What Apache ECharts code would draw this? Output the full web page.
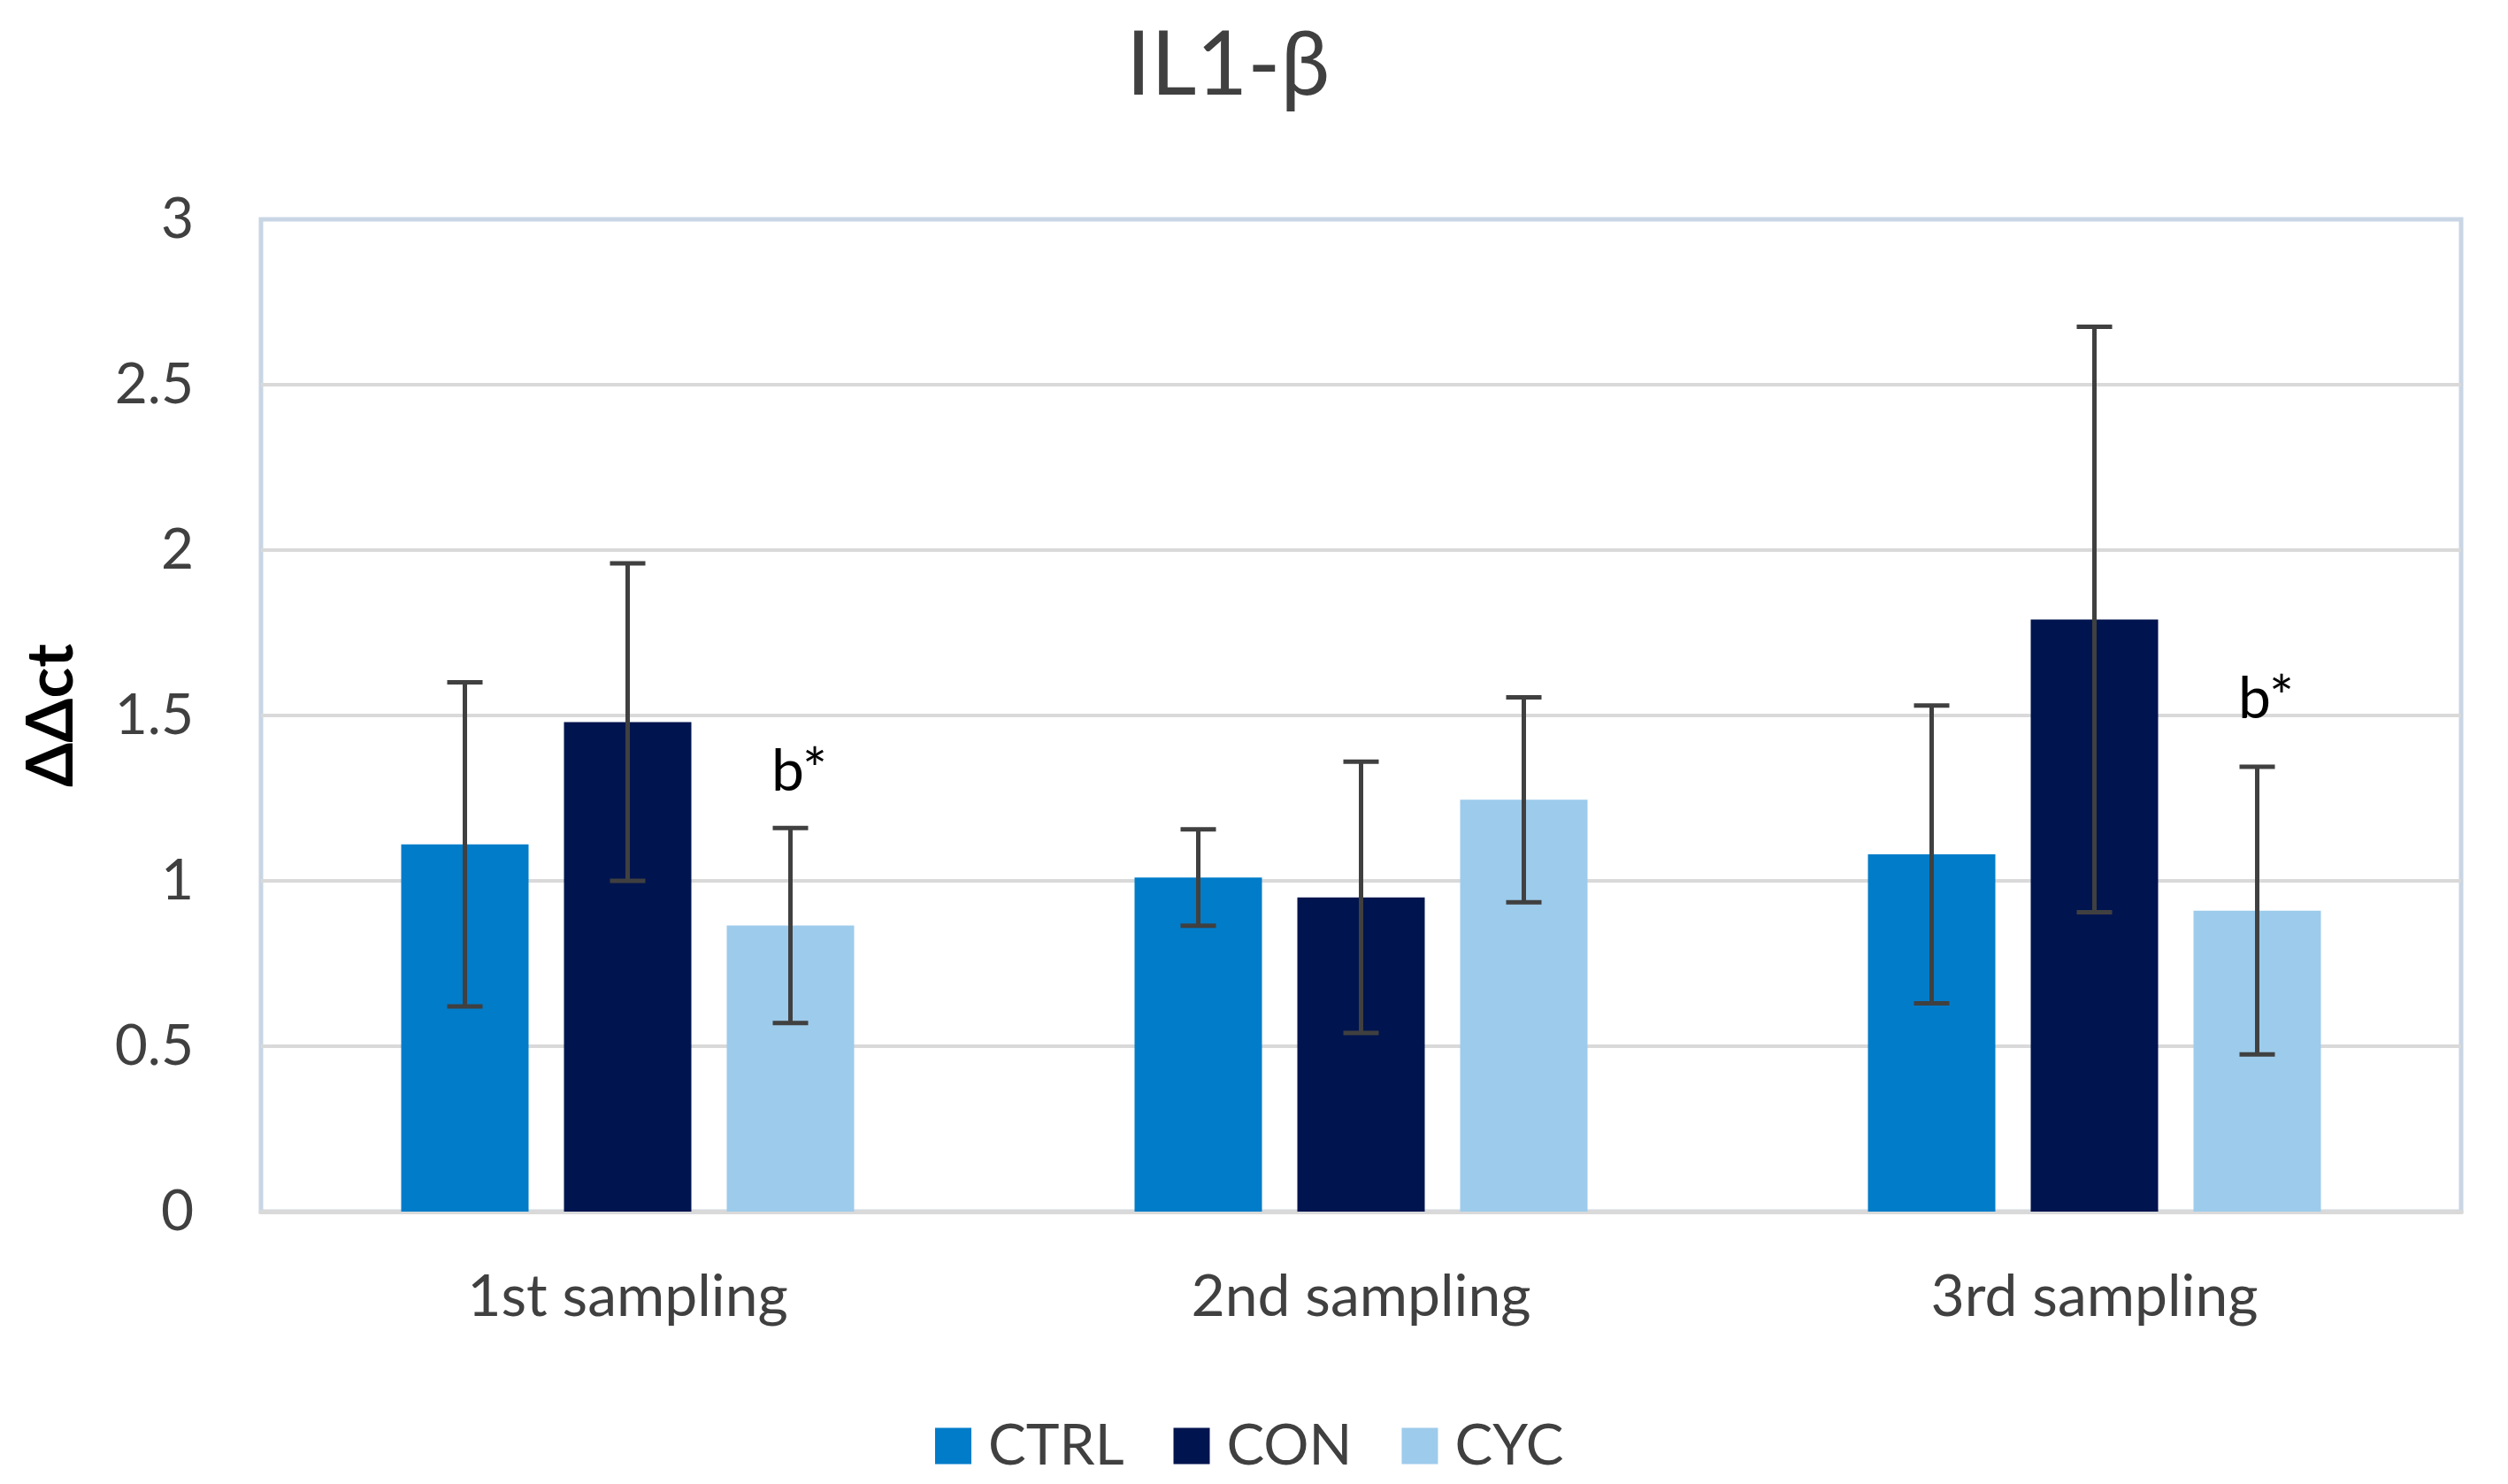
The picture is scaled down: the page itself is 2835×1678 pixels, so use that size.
<!DOCTYPE html>
<html>
<head>
<meta charset="utf-8">
<script src="https://cdn.jsdelivr.net/npm/echarts@6/dist/echarts.min.js"></script>
<style>
html,body{margin:0;padding:0;background:#fff;}
#chart{width:2835px;height:1678px;}
</style>
</head>
<body>
<div id="chart"></div>
<script>
// ---- data ----
const categories = ['1st sampling', '2nd sampling', '3rd sampling'];
const seriesNames = ['CTRL', 'CON', 'CYC'];
const ctrlMean = [1.11, 1.01, 1.08];
const ctrlErr  = [0.49, 0.146, 0.45];
const conMean  = [1.48, 0.95, 1.79];
const conErr   = [0.48, 0.41, 0.885];
const cycMean  = [0.865, 1.245, 0.91];
const cycErr   = [0.295, 0.31, 0.435];
const cycMarks = ['b*', '', 'b*'];
const cycMarkY = [1.33, null, 1.55];
const yMin = 0, yMax = 3, yStep = 0.5;

// ---- style ----
const FONT = 'Lato, "Open Sans", sans-serif';
const COLORS = ['#007CC9', '#00144F', '#9DCBEB'];
const BAR_W = 144, BAR_GAP = 40, STEP = BAR_W + BAR_GAP;
const ERR_COLOR = '#404040';

function errSeries(mean, err, slot) {
  return {
    type: 'custom',
    z: 5,
    silent: true,
    encode: { x: 0, y: 1 },
    data: mean.map((m, i) => [i, m, err[i]]),
    renderItem: function (params, api) {
      const i = api.value(0), m = api.value(1), e = api.value(2);
      const top = api.coord([i, m + e]);
      const bot = api.coord([i, m - e]);
      const x = top[0] + slot * STEP;
      const st = { stroke: ERR_COLOR, lineWidth: 5 };
      const cw = 20;
      return {
        type: 'group',
        children: [
          { type: 'line', shape: { x1: x, y1: top[1], x2: x, y2: bot[1] }, style: st },
          { type: 'line', shape: { x1: x - cw, y1: top[1], x2: x + cw, y2: top[1] }, style: st },
          { type: 'line', shape: { x1: x - cw, y1: bot[1], x2: x + cw, y2: bot[1] }, style: st }
        ]
      };
    }
  };
}

const markData = [];
cycMarks.forEach((t, i) => { if (t) markData.push([i, cycMarkY[i]]); });

const splitColors = [];
for (let v = yMin; v <= yMax + 1e-9; v += yStep) splitColors.push('#D9D9D9');
splitColors[splitColors.length - 1] = '#C9D5E4';

const chart = echarts.init(document.getElementById('chart'));
chart.setOption({
  animation: false,
  backgroundColor: '#ffffff',
  title: {
    text: 'IL1-β',
    left: 1268,
    top: 20,
    textStyle: { fontFamily: FONT, fontSize: 100, fontWeight: 'normal', color: '#404040' }
  },
  legend: {
    data: seriesNames,
    left: 1052,
    top: 1598,
    icon: 'rect',
    itemWidth: 41,
    itemHeight: 41,
    itemGap: 56,
    textStyle: { fontFamily: FONT, fontSize: 64, color: '#404040', padding: [0, 0, 0, 14] }
  },
  grid: {
    left: 295, right: 53, top: 248, bottom: 308,
    show: true,
    borderColor: '#C9D5E4',
    borderWidth: 5,
    backgroundColor: '#ffffff'
  },
  xAxis: {
    type: 'category',
    data: categories,
    axisLine: { show: true, lineStyle: { color: '#D9D9D9', width: 5 } },
    axisTick: { show: false },
    axisLabel: { fontFamily: FONT, fontSize: 66, color: '#404040', margin: 64 }
  },
  yAxis: {
    type: 'value',
    min: yMin, max: yMax, interval: yStep,
    name: 'ΔΔct',
    nameLocation: 'middle',
    nameGap: 200,
    nameRotate: 90,
    nameTextStyle: { fontFamily: FONT, fontSize: 72, fontWeight: 'bold', color: '#000000' },
    axisLine: { show: false },
    axisTick: { show: false },
    axisLabel: { fontFamily: FONT, fontSize: 64, color: '#404040', margin: 76 },
    splitLine: { show: true, lineStyle: { color: splitColors, width: 4 } }
  },
  series: [
    { name: 'CTRL', type: 'bar', data: ctrlMean, barWidth: BAR_W, barGap: (BAR_GAP / BAR_W * 100).toFixed(2) + '%', itemStyle: { color: COLORS[0] } },
    { name: 'CON', type: 'bar', data: conMean, barWidth: BAR_W, barGap: (BAR_GAP / BAR_W * 100).toFixed(2) + '%', itemStyle: { color: COLORS[1] } },
    { name: 'CYC', type: 'bar', data: cycMean, barWidth: BAR_W, barGap: (BAR_GAP / BAR_W * 100).toFixed(2) + '%', itemStyle: { color: COLORS[2] } },
    errSeries(ctrlMean, ctrlErr, -1),
    errSeries(conMean, conErr, 0),
    errSeries(cycMean, cycErr, 1),
    {
      type: 'custom',
      z: 6,
      silent: true,
      encode: { x: 0, y: 1 },
      data: markData,
      renderItem: function (params, api) {
        const i = api.value(0);
        const p = api.coord([i, api.value(1)]);
        return {
          type: 'text',
          style: {
            text: cycMarks[i],
            x: p[0] + STEP + 10,
            y: p[1],
            align: 'center',
            verticalAlign: 'middle',
            fontFamily: FONT,
            fontSize: 66,
            fill: '#000000'
          }
        };
      }
    }
  ]
});
</script>
</body>
</html>
